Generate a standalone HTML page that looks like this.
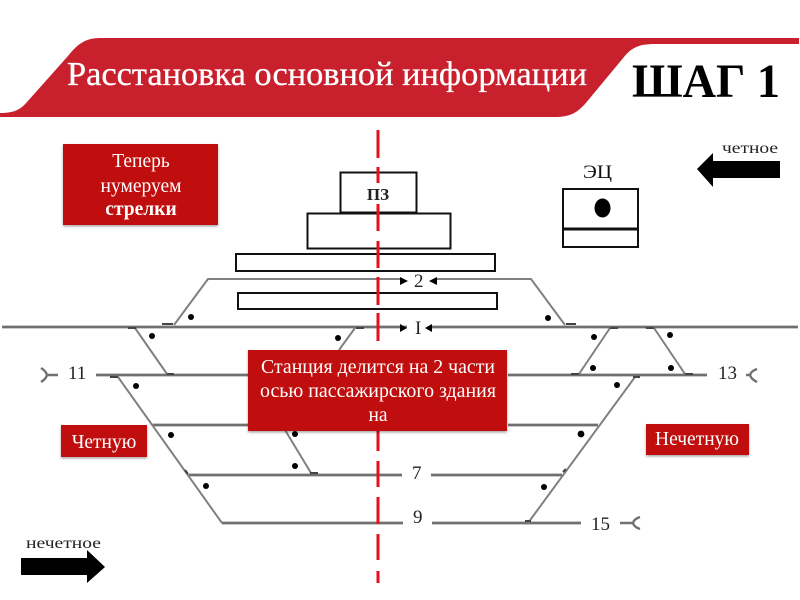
<!DOCTYPE html>
<html lang="ru">
<head>
<meta charset="utf-8">
<title>Шаг 1</title>
<style>
html,body{margin:0;padding:0;background:#fff;width:800px;height:600px;overflow:hidden}
svg{display:block;font-family:"Liberation Serif",serif}
.t{stroke:#707070;stroke-width:2.8;fill:none}
.d{stroke:#808080;stroke-width:2;fill:none}
.s{stroke:#444;stroke-width:2;fill:none}
.h{stroke:#707070;stroke-width:2.4;fill:none}
.b{fill:#fff;stroke:#111;stroke-width:2}
.l{fill:#222;font-size:19px}
.w{fill:#fff;font-size:19.500px;text-anchor:middle}
</style>
</head>
<body>
<svg width="800" height="600" viewBox="0 0 800 600" xmlns="http://www.w3.org/2000/svg">
<defs>
<filter id="sh" x="-5%" y="-5%" width="110%" height="115%"><feDropShadow dx="0" dy="1.5" stdDeviation="1.2" flood-color="#000" flood-opacity=".35"/></filter>
</defs>
<path d="M0 113C14 113 20 110 27 102L68 56C76 46 84 38 100 38H799V44H655C640 44 632 47 624 57L585 104C576 114 568 117 555 117H0Z" fill="#c9202e"/>
<text x="67" y="85" font-size="34" fill="#fff" stroke="#fff" stroke-width=".3" textLength="520" lengthAdjust="spacingAndGlyphs">Расстановка основной информации</text>
<text x="632" y="97" font-size="48" font-weight="bold" fill="#000" textLength="148" lengthAdjust="spacingAndGlyphs">ШАГ 1</text>

<rect class="b" x="340.500" y="172.500" width="76" height="40"/>
<rect class="b" x="307.500" y="213.500" width="143" height="35"/>
<rect class="b" x="236" y="254" width="259" height="17"/>
<rect class="b" x="238" y="293" width="259" height="16"/>

<g class="t">
<path d="M2 327H407M431 327H798"/>
<path d="M96 375H248M508 375H707"/>
<path d="M152 425H248M508 425H598"/>
<path d="M189 475H402M431 475H562"/>
<path d="M222 523H403M432 523H581"/>
</g>
<path class="d" d="M174 325L208 279H401M437 279H531L565 325"/>
<g class="d">
<path d="M135 328L167 374"/>
<path d="M118 377L222 523"/>
<path d="M282 425L311 473"/>
<path d="M355 328L339 350"/>
<path d="M610 328L579 374"/>
<path d="M654 328L685 374"/>
<path d="M635 377L528 523"/>
</g>
<g class="s">
<path d="M128 328H136M167 374H174M162 324H173M566 324H576M610 328H618M646 328H654M571 374H579M685 374H693M633 377H640M110 377H118M356 328H364M310 473H318M525 521H531M185 470L188 474M563 472L566 469"/>
</g>
<g fill="#000">
<circle cx="191" cy="317" r="3"/><circle cx="152" cy="336" r="3"/><circle cx="338" cy="338" r="3"/>
<circle cx="136" cy="386" r="3"/><circle cx="548" cy="318" r="3"/><circle cx="594" cy="337" r="3"/>
<circle cx="670" cy="335" r="3"/><circle cx="593" cy="368" r="3"/><circle cx="671" cy="368" r="3"/>
<circle cx="617" cy="385" r="3"/><circle cx="171" cy="435" r="3"/><circle cx="295" cy="434" r="3"/>
<circle cx="295" cy="466" r="3"/><circle cx="206" cy="486" r="3"/><circle cx="581" cy="434" r="3.400"/>
<circle cx="544" cy="487" r="3"/>
<path d="M408 281l-8-4v8zM429 281l8-4v8zM407 328l-7-4v8zM425 328l7-4v8z"/>
</g>

<g class="l">
<text x="414" y="287">2</text>
<text x="415" y="334">I</text>
<text x="68" y="379">11</text>
<text x="718" y="379">13</text>
<text x="412" y="479">7</text>
<text x="413" y="523">9</text>
<text x="591" y="530">15</text>
</g>
<g class="h">
<path d="M58 375H47M41 368Q46 371 47 375Q46 379 41 382"/>
<path d="M746 375H750M757 369Q751 371 750 375Q751 379 757 382"/>
<path d="M620 523H633M640 517Q634 519 633 523Q634 527 640 529"/>
</g>

<path d="M378 130V158M378 167V183M378 204V231M378 241V268M378 277V305M378 313V341" stroke="#e5101c" stroke-width="3" fill="none"/>
<path d="M378 431V451M378 461V487M378 497V524M378 534V560M378 571V583" stroke="#e5101c" stroke-width="3" fill="none"/>
<text x="378" y="200" font-size="17" font-weight="bold" fill="#222" text-anchor="middle">ПЗ</text>

<rect x="63" y="144" width="155" height="81" fill="#c00808" filter="url(#sh)"/>
<text class="w" x="141" y="167">Теперь</text>
<text class="w" x="141" y="192">нумеруем</text>
<text class="w" x="141" y="215" font-weight="bold">стрелки</text>

<rect x="248" y="350" width="259" height="81" fill="#c00808" filter="url(#sh)"/>
<text class="w" x="378" y="373" textLength="234" lengthAdjust="spacingAndGlyphs">Станция делится на 2 части</text>
<text class="w" x="378" y="397" textLength="236" lengthAdjust="spacingAndGlyphs">осью пассажирского здания</text>
<text class="w" x="378" y="421">на</text>

<rect x="61" y="425" width="86" height="32" fill="#c00808" filter="url(#sh)"/>
<text class="w" x="104" y="448">Четную</text>
<rect x="646" y="424" width="103" height="31" fill="#c00808" filter="url(#sh)"/>
<text class="w" x="697" y="445">Нечетную</text>

<text x="583" y="178" font-size="19" fill="#111" textLength="29" lengthAdjust="spacingAndGlyphs">ЭЦ</text>
<rect class="b" x="563" y="189" width="75" height="58"/>
<path d="M563 229H638" stroke="#111" stroke-width="3"/>
<ellipse cx="602.500" cy="208" rx="8" ry="9.500" fill="#000"/>

<text x="722" y="153" font-size="16" fill="#222" textLength="56" lengthAdjust="spacingAndGlyphs">четное</text>
<path d="M697 169L713 153V161H780V178H713V187Z" fill="#000"/>
<text x="26" y="548" font-size="16" fill="#222" textLength="75" lengthAdjust="spacingAndGlyphs">нечетное</text>
<path d="M21 558H87V550L105 567L87 583V575H21Z" fill="#000"/>
</svg>
</body>
</html>
